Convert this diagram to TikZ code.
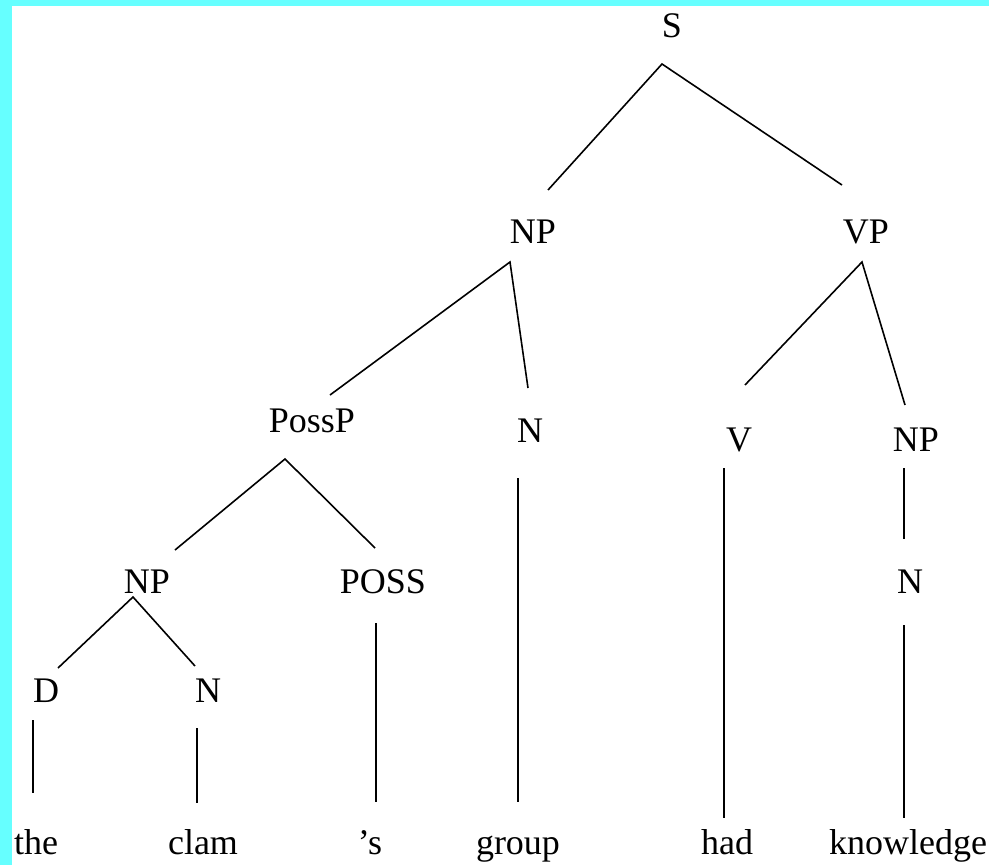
\documentclass[tikz,border=0pt]{standalone}
\usepackage{fontspec}
\setmainfont{Liberation Serif}
\definecolor{bordercyan}{HTML}{66FFFF}
\tikzset{
  lab/.style={anchor=base, inner sep=0pt, font=\fontsize{36}{40}\selectfont},
  branch/.style={draw=black, line width=1.6pt}
}
\begin{document}
\begin{tikzpicture}[x=1pt,y=-1pt]
\useasboundingbox (0,0) rectangle (989,865);
\fill[bordercyan] (0,0) rectangle (989,865);
\fill[white] (12,6) rectangle (989,865);
% labels
\node[lab] (S) at (672,37) {S};
\node[lab] (NPa) at (533,243) {NP};
\node[lab] (VP) at (866,243) {VP};
\node[lab] (PossP) at (312,432) {PossP};
\node[lab] (Na) at (530,442) {N};
\node[lab] (V) at (739,451) {V};
\node[lab] (NPb) at (916,451) {NP};
\node[lab] (NPc) at (147,593) {NP};
\node[lab] (POSS) at (383,593) {POSS};
\node[lab] (Nb) at (910,593) {N};
\node[lab] (D) at (46,702) {D};
\node[lab] (Nc) at (208,702) {N};
\node[lab] (the) at (36,854) {the};
\node[lab] (clam) at (203,854) {clam};
\node[lab] (poss) at (370,854) {’s};
\node[lab] (group) at (518,854) {group};
\node[lab] (had) at (727,854) {had};
\node[lab] (knowledge) at (908,854) {knowledge};
% branch points
\coordinate (S-d) at (662,64);
\coordinate (NPa-u) at (548,190);
\coordinate (VP-u) at (842,185);
\coordinate (NPa-d) at (510,262);
\coordinate (PossP-u) at (330,395);
\coordinate (Na-u) at (528,388);
\coordinate (VP-d) at (862,262);
\coordinate (V-u) at (745,385);
\coordinate (NPb-u) at (905,405);
\coordinate (PossP-d) at (285,459);
\coordinate (NPc-u) at (175,550);
\coordinate (POSS-u) at (375,548);
\coordinate (Na-d) at (518,478);
\coordinate (group-u) at (518,802);
\coordinate (V-d) at (724,468);
\coordinate (had-u) at (724,818);
\coordinate (NPb-d) at (904,468);
\coordinate (Nb-u) at (904,539);
\coordinate (Nb-d) at (904,625);
\coordinate (knowledge-u) at (904,818);
\coordinate (NPc-d) at (133,597);
\coordinate (D-u) at (58,668);
\coordinate (Nc-u) at (195,666);
\coordinate (POSS-d) at (376,623);
\coordinate (poss-u) at (376,802);
\coordinate (D-d) at (33,720);
\coordinate (the-u) at (33,793);
\coordinate (Nc-d) at (197,728);
\coordinate (clam-u) at (197,803);
% branches
\draw[branch] (NPa-u) -- (S-d) -- (VP-u);
\draw[branch] (PossP-u) -- (NPa-d) -- (Na-u);
\draw[branch] (V-u) -- (VP-d) -- (NPb-u);
\draw[branch] (NPc-u) -- (PossP-d) -- (POSS-u);
\draw[branch] (D-u) -- (NPc-d) -- (Nc-u);
\draw[branch] (Na-d) -- (group-u);
\draw[branch] (V-d) -- (had-u);
\draw[branch] (NPb-d) -- (Nb-u);
\draw[branch] (Nb-d) -- (knowledge-u);
\draw[branch] (POSS-d) -- (poss-u);
\draw[branch] (D-d) -- (the-u);
\draw[branch] (Nc-d) -- (clam-u);
\end{tikzpicture}
\end{document}
